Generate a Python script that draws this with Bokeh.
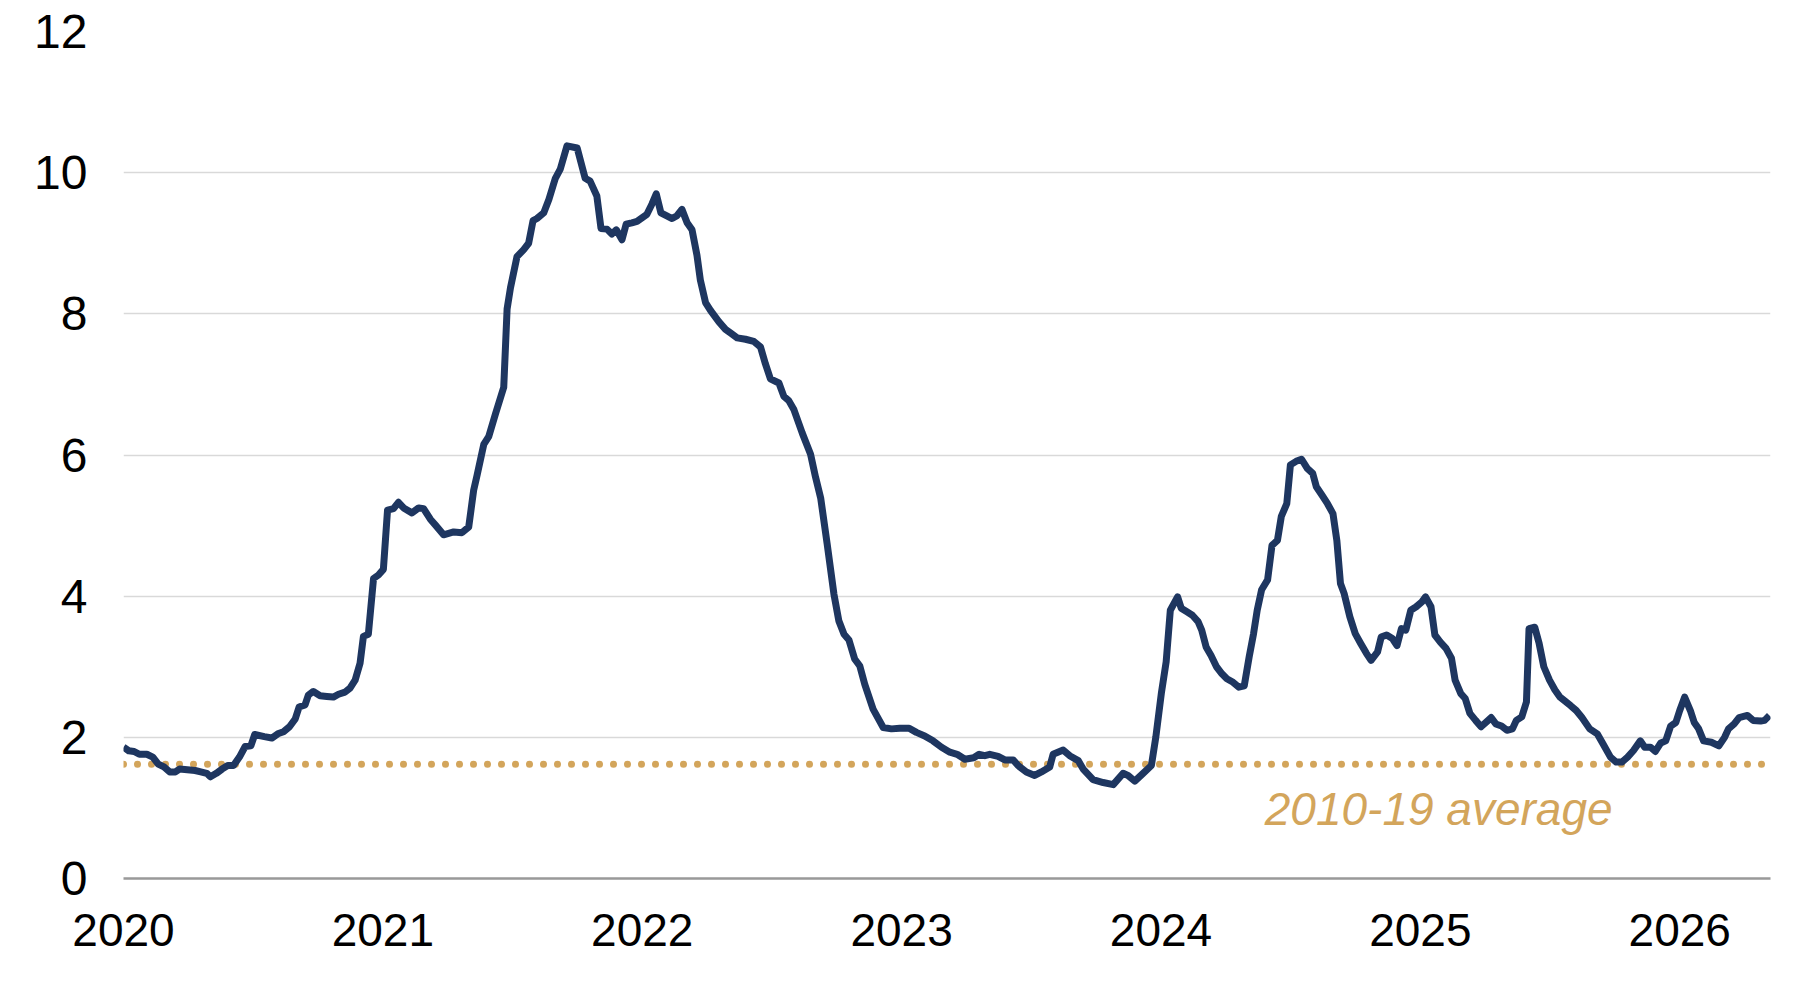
from bokeh.plotting import figure
from bokeh.models import FixedTicker, NumeralTickFormatter, Range1d
from bokeh.core.properties import value
from bokeh.embed import file_html
from bokeh.resources import INLINE

# time in years since start of 2020
years_since_2020 = [
    0.000, 0.020, 0.041, 0.061, 0.090, 0.113, 0.134, 0.156, 0.178, 0.200,
    0.216, 0.246, 0.276, 0.298, 0.321, 0.335, 0.358, 0.380, 0.402, 0.424,
    0.447, 0.469, 0.491, 0.506, 0.543, 0.572, 0.595, 0.617, 0.640, 0.662,
    0.677, 0.700, 0.713, 0.732, 0.758, 0.784, 0.809, 0.829, 0.854, 0.874,
    0.893, 0.912, 0.925, 0.944, 0.964, 0.983, 1.002, 1.018, 1.041, 1.060,
    1.080, 1.112, 1.138, 1.157, 1.183, 1.202, 1.234, 1.273, 1.305, 1.331,
    1.350, 1.363, 1.389, 1.408, 1.434, 1.466, 1.479, 1.492, 1.517, 1.543,
    1.562, 1.579, 1.594, 1.620, 1.640, 1.665, 1.684, 1.710, 1.749, 1.780,
    1.799, 1.825, 1.841, 1.864, 1.883, 1.900, 1.922, 1.938, 1.960, 1.980,
    2.018, 2.038, 2.054, 2.072, 2.093, 2.115, 2.134, 2.153, 2.173, 2.192,
    2.211, 2.224, 2.244, 2.263, 2.295, 2.321, 2.340, 2.366, 2.398, 2.430,
    2.456, 2.475, 2.494, 2.527, 2.546, 2.565, 2.585, 2.617, 2.649, 2.668,
    2.688, 2.713, 2.739, 2.758, 2.778, 2.797, 2.819, 2.839, 2.858, 2.890,
    2.929, 2.961, 2.993, 3.029, 3.057, 3.089, 3.121, 3.154, 3.186, 3.214,
    3.244, 3.278, 3.299, 3.321, 3.340, 3.372, 3.398, 3.430, 3.449, 3.481,
    3.513, 3.539, 3.571, 3.584, 3.623, 3.648, 3.681, 3.700, 3.738, 3.777,
    3.816, 3.854, 3.873, 3.899, 3.931, 3.963, 3.980, 4.002, 4.020, 4.036,
    4.064, 4.078, 4.100, 4.121, 4.143, 4.157, 4.174, 4.193, 4.214, 4.235,
    4.254, 4.278, 4.300, 4.321, 4.340, 4.357, 4.371, 4.388, 4.411, 4.428,
    4.449, 4.464, 4.485, 4.499, 4.521, 4.542, 4.564, 4.585, 4.599, 4.621,
    4.642, 4.663, 4.678, 4.692, 4.706, 4.728, 4.749, 4.770, 4.792, 4.810,
    4.835, 4.849, 4.870, 4.892, 4.910, 4.927, 4.944, 4.963, 4.984, 5.006,
    5.020, 5.041, 5.056, 5.077, 5.099, 5.120, 5.134, 5.156, 5.173, 5.191,
    5.213, 5.234, 5.255, 5.273, 5.291, 5.313, 5.334, 5.355, 5.370, 5.391,
    5.409, 5.419, 5.441, 5.458, 5.476, 5.498, 5.519, 5.538, 5.579, 5.601,
    5.623, 5.653, 5.682, 5.704, 5.733, 5.755, 5.777, 5.799, 5.821, 5.848,
    5.865, 5.887, 5.906, 5.927, 5.946, 5.965, 5.985, 6.000, 6.019, 6.041,
    6.056, 6.073, 6.092, 6.122, 6.151, 6.173, 6.188, 6.210, 6.229, 6.261,
    6.283, 6.312, 6.327, 6.346,
]

series_values = [
    1.86, 1.81, 1.80, 1.76, 1.76, 1.72, 1.62, 1.58, 1.51, 1.51,
    1.55, 1.54, 1.53, 1.51, 1.49, 1.44, 1.49, 1.55, 1.60, 1.60,
    1.72, 1.87, 1.88, 2.04, 2.01, 1.99, 2.05, 2.08, 2.15, 2.26,
    2.43, 2.46, 2.60, 2.65, 2.59, 2.58, 2.57, 2.61, 2.64, 2.70,
    2.81, 3.05, 3.43, 3.46, 4.25, 4.30, 4.38, 5.22, 5.24, 5.33,
    5.25, 5.18, 5.25, 5.24, 5.09, 5.01, 4.87, 4.91, 4.90, 4.98,
    5.50, 5.71, 6.15, 6.26, 6.58, 6.96, 8.07, 8.37, 8.81, 8.91,
    9.00, 9.32, 9.35, 9.43, 9.62, 9.92, 10.05, 10.38, 10.35, 9.92,
    9.88, 9.67, 9.21, 9.20, 9.13, 9.19, 9.05, 9.27, 9.29, 9.31,
    9.41, 9.56, 9.70, 9.43, 9.39, 9.35, 9.39, 9.48, 9.29, 9.19,
    8.83, 8.48, 8.16, 8.05, 7.89, 7.78, 7.73, 7.66, 7.64, 7.61,
    7.53, 7.29, 7.08, 7.02, 6.83, 6.77, 6.64, 6.31, 6.01, 5.69,
    5.39, 4.74, 4.03, 3.65, 3.46, 3.38, 3.11, 3.01, 2.75, 2.40,
    2.14, 2.12, 2.13, 2.13, 2.07, 2.02, 1.95, 1.86, 1.79, 1.76,
    1.69, 1.71, 1.76, 1.74, 1.76, 1.73, 1.68, 1.68, 1.60, 1.51,
    1.46, 1.51, 1.58, 1.76, 1.82, 1.74, 1.67, 1.55, 1.40, 1.36,
    1.33, 1.49, 1.46, 1.38, 1.49, 1.60, 2.00, 2.64, 3.07, 3.80,
    3.99, 3.83, 3.78, 3.73, 3.64, 3.52, 3.28, 3.16, 3.00, 2.90,
    2.83, 2.78, 2.71, 2.73, 3.14, 3.47, 3.80, 4.09, 4.23, 4.72,
    4.79, 5.13, 5.31, 5.86, 5.91, 5.94, 5.81, 5.74, 5.55, 5.43,
    5.31, 5.17, 4.79, 4.18, 4.04, 3.71, 3.47, 3.33, 3.19, 3.09,
    3.21, 3.42, 3.45, 3.40, 3.30, 3.54, 3.52, 3.80, 3.85, 3.92,
    3.99, 3.85, 3.45, 3.35, 3.26, 3.12, 2.81, 2.62, 2.55, 2.34,
    2.24, 2.15, 2.22, 2.28, 2.19, 2.16, 2.10, 2.12, 2.24, 2.29,
    2.50, 3.54, 3.56, 3.33, 3.00, 2.81, 2.67, 2.57, 2.45, 2.38,
    2.28, 2.12, 2.05, 1.91, 1.72, 1.65, 1.65, 1.72, 1.81, 1.95,
    1.86, 1.86, 1.80, 1.92, 1.95, 2.16, 2.21, 2.38, 2.57, 2.38,
    2.21, 2.12, 1.95, 1.93, 1.88, 2.00, 2.12, 2.19, 2.28, 2.31,
    2.24, 2.23, 2.24, 2.31,
]

average_2010_19 = 1.62
average_label = "2010-19 average"
x_tick_years = [2020, 2021, 2022, 2023, 2024, 2025, 2026]
y_ticks = [0, 2, 4, 6, 8, 10, 12]

NAVY = "#1E3660"
GOLD = "#D3A55B"
FONT = "Liberation Sans"

x_vals = [2020 + t for t in years_since_2020]
x_start, x_end = 2020.0, 2026.35

p = figure(width=1778, height=968, output_backend="svg", toolbar_location=None,
           x_range=Range1d(x_start, x_end), y_range=Range1d(0, 12),
           min_border_left=123, min_border_top=31, min_border_right=8,
           min_border_bottom=90)
p.outline_line_color = None
p.background_fill_color = "white"
p.border_fill_color = "white"

# average (dotted)
p.line([x_start, x_end], [average_2010_19, average_2010_19], line_color=GOLD,
       line_width=7, line_dash="0 14", line_cap="round")

# main series
p.line(x_vals, series_values, line_color=NAVY, line_width=7, line_join="round")

p.text(x=[2024.40], y=[0.99], text=[average_label], text_color=GOLD,
       text_font=value(FONT), text_font_style="italic", text_font_size="46px",
       text_align="left", text_baseline="alphabetic")

# axes
p.xaxis.ticker = FixedTicker(ticks=x_tick_years)
p.xaxis.formatter = NumeralTickFormatter(format="0")
p.xaxis.major_tick_line_color = None
p.xaxis.minor_tick_line_color = None
p.xaxis.axis_line_color = "#999999"
p.xaxis.axis_line_width = 2.5
p.xaxis.major_label_text_font = FONT
p.xaxis.major_label_text_font_size = "46px"
p.xaxis.major_label_text_color = "black"
p.xaxis.major_label_standoff = 29

p.yaxis.ticker = FixedTicker(ticks=y_ticks)
p.yaxis.formatter = NumeralTickFormatter(format="0")
p.yaxis.major_tick_line_color = None
p.yaxis.minor_tick_line_color = None
p.yaxis.axis_line_color = None
p.yaxis.major_label_text_font = FONT
p.yaxis.major_label_text_font_size = "48px"
p.yaxis.major_label_text_color = "black"
p.yaxis.major_label_standoff = 30

p.xgrid.grid_line_color = None
p.ygrid.grid_line_color = "#D9D9D9"
p.ygrid.grid_line_width = 1.5

open("out.html", "w").write(file_html(p, INLINE))
